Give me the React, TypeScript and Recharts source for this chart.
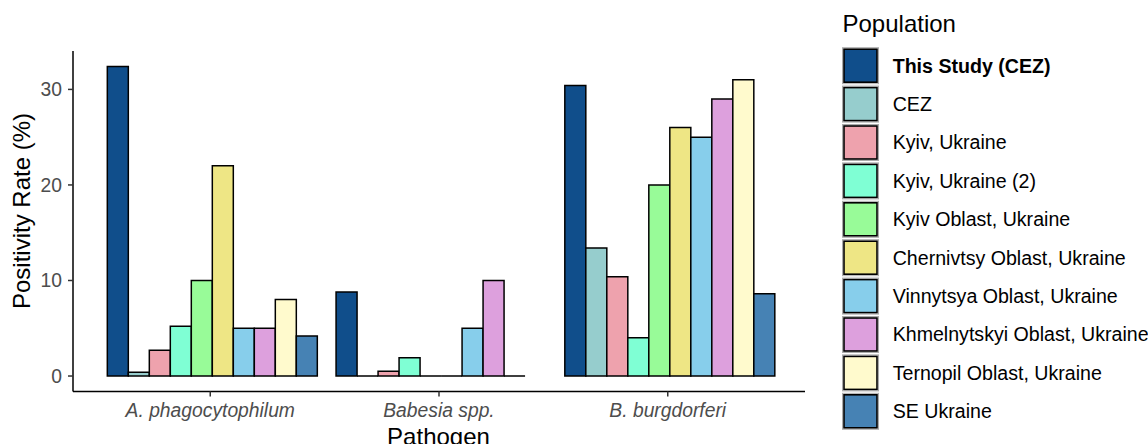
import React from 'react';
import { BarChart, Bar, XAxis, YAxis, Legend, Label } from 'recharts';

const categories = ['A. phagocytophilum', 'Babesia spp.', 'B. burgdorferi'];

const populations = [
  'This Study (CEZ)',
  'CEZ',
  'Kyiv, Ukraine',
  'Kyiv, Ukraine (2)',
  'Kyiv Oblast, Ukraine',
  'Chernivtsy Oblast, Ukraine',
  'Vinnytsya Oblast, Ukraine',
  'Khmelnytskyi Oblast, Ukraine',
  'Ternopil Oblast, Ukraine',
  'SE Ukraine',
];

const popColors = [
  '#104E8B', '#96CDCD', '#EEA2AD', '#7FFFD4', '#98FB98',
  '#EEE685', '#87CEEB', '#DDA0DD', '#FFFACD', '#4682B4',
];

// positivity rate (%) per pathogen, same order as categories
const thisStudy = [32.4, 8.8, 30.4];
const cez = [0.4, 0, 13.4];
const kyiv = [2.7, 0.5, 10.4];
const kyiv2 = [5.2, 1.9, 4.0];
const kyivOblast = [10, 0, 20];
const chernivtsy = [22, 0, 26];
const vinnytsya = [5, 5, 25];
const khmelnytskyi = [5, 10, 29];
const ternopil = [8, 0, 31];
const seUkraine = [4.2, null, 8.6];

const seriesValues = [
  thisStudy, cez, kyiv, kyiv2, kyivOblast,
  chernivtsy, vinnytsya, khmelnytskyi, ternopil, seUkraine,
];

const yTicks = [0, 10, 20, 30];

const data = categories.map((cat, i) => {
  const row: any = { pathogen: cat };
  seriesValues.forEach((vals, s) => { row['s' + s] = vals[i]; });
  return row;
});

const FONT = "'Liberation Sans', Arial, Helvetica, sans-serif";

// zero-height bars still get their outline, like ggplot does
const BarShape = (props: any) => {
  const { x, y, width, height, fill, value } = props;
  if (value == null || !isFinite(x) || !isFinite(y) || !isFinite(height)) return null;
  const v = Array.isArray(value) ? value[1] - value[0] : value;
  if (v == null) return null;
  return (
    <path
      d={`M${x},${y}h${width}v${height}h${-width}Z`}
      fill={fill}
      stroke="#000"
      strokeWidth={1.5}
    />
  );
};

const XTick = ({ x, payload }: any) => (
  <text x={x} y={416.5} textAnchor="middle" fontSize={19.3} fontStyle="italic"
    fill="#4D4D4D" fontFamily={FONT}>
    {payload.value}
  </text>
);

const LegendBox = () => (
  <svg width={318} height={444} style={{ display: 'block' }}>
    <g transform="translate(-830,0)">
      <text x={842.5} y={32} fontSize={24} fill="#000" fontFamily={FONT}>Population</text>
      {populations.map((name, i) => {
        const top = 47.7 + i * 38.4;
        return (
          <g key={name}>
            <rect x={842.5} y={top} width={36} height={36} fill="none" stroke="#aaa" strokeWidth={1} />
            <rect x={844} y={top + 1.5} width={33} height={33} fill={popColors[i]} stroke="#000" strokeWidth={1.6} />
            <text x={892.7} y={top + 18 + 6.9} fontSize={19.6} fill="#000" fontFamily={FONT}
              fontWeight={i === 0 ? 'bold' : 'normal'}>
              {name}
            </text>
          </g>
        );
      })}
    </g>
  </svg>
);

export default function App() {
  return (
    <div style={{ position: 'absolute', left: 0, top: 0, width: 1148, height: 444, background: '#fff' }}>
      <BarChart
        width={1148}
        height={444}
        data={data}
        margin={{ top: 51, right: 343, left: 0, bottom: 0 }}
        barCategoryGap="5%"
        barGap={0}
      >
        <XAxis
          dataKey="pathogen"
          height={52.5}
          padding={{ left: 22.875, right: 22.875 }}
          axisLine={{ stroke: '#000', strokeWidth: 1.5 }}
          tickLine={{ stroke: '#333', strokeWidth: 1.5 }}
          tickSize={5}
          tick={<XTick />}
          interval={0}
        >
          <Label
            content={() => (
              <text x={438.5} y={445} textAnchor="middle" fontSize={24} fill="#000" fontFamily={FONT}>
                Pathogen
              </text>
            )}
          />
        </XAxis>
        <YAxis
          width={73}
          domain={[-1.62, 34.02]}
          ticks={yTicks}
          allowDataOverflow
          axisLine={{ stroke: '#000', strokeWidth: 1.5 }}
          tickLine={{ stroke: '#333', strokeWidth: 1.5 }}
          tickSize={5}
          tickMargin={6}
          tick={{ fontSize: 19.3, fill: '#4D4D4D', fontFamily: FONT }}
        >
          <Label
            content={() => (
              <text x={30} y={211} transform="rotate(-90 30 211)" textAnchor="middle"
                fontSize={24} fill="#000" fontFamily={FONT}>
                Positivity Rate (%)
              </text>
            )}
          />
        </YAxis>
        <Legend
          layout="vertical"
          align="center"
          verticalAlign="middle"
          wrapperStyle={{ left: 830, top: 0 }}
          content={() => <LegendBox />}
        />
        {populations.map((name, s) => (
          <Bar
            key={name}
            dataKey={'s' + s}
            name={name}
            fill={popColors[s]}
            shape={<BarShape />}
            isAnimationActive={false}
          />
        ))}
      </BarChart>
    </div>
  );
}
